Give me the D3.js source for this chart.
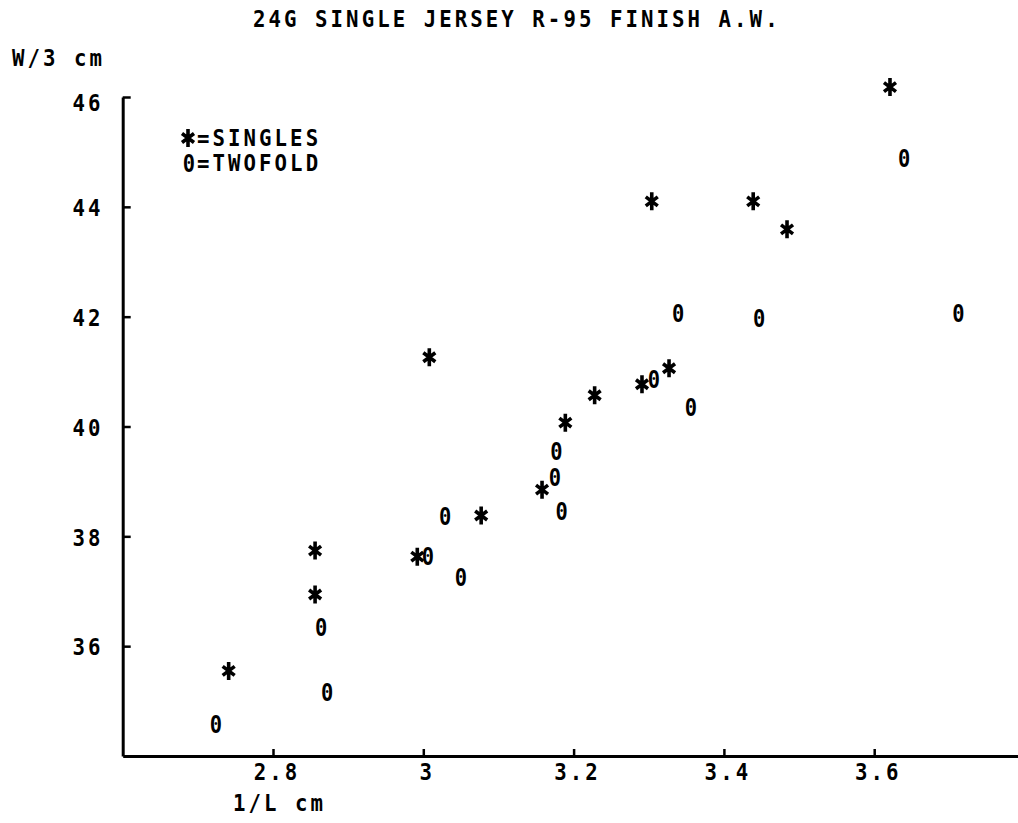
<!DOCTYPE html>
<html>
<head>
<meta charset="utf-8">
<script src="https://cdn.jsdelivr.net/npm/d3@7"></script>
<style>
  html, body { margin: 0; padding: 0; background: #fff; }
  svg { display: block; }
  text { font-family: "DejaVu Sans Mono", monospace; font-weight: bold; fill: #000; }
</style>
</head>
<body>
<script>
// ---- data ----
const title = "24G SINGLE JERSEY R-95 FINISH A.W.";
const xLabel = "1/L cm";
const yLabel = "W/3 cm";
const xTicks = [2.8, 3.0, 3.2, 3.4, 3.6];
const yTicks = [36, 38, 40, 42, 44, 46];
const singlesX = [2.741, 2.856, 2.856, 3.008, 2.992, 3.077, 3.158, 3.189, 3.228, 3.291, 3.327, 3.304, 3.439, 3.484, 3.621];
const singlesY = [35.55, 37.74, 36.94, 41.26, 37.63, 38.38, 38.85, 40.07, 40.57, 40.77, 41.06, 44.10, 44.10, 43.59, 46.18];
const twofoldX = [2.724, 2.872, 2.864, 3.006, 3.029, 3.050, 3.177, 3.175, 3.184, 3.307, 3.356, 3.339, 3.447, 3.640, 3.712];
const twofoldY = [34.58, 35.15, 36.35, 37.63, 38.36, 37.25, 39.54, 39.07, 38.45, 40.86, 40.35, 42.06, 41.97, 44.89, 42.06];
const legendItems = ["=SINGLES", "=TWOFOLD"];

// ---- chart ----
const W = 1018, H = 823;
const svg = d3.select("body").append("svg").attr("width", W).attr("height", H);
svg.append("rect").attr("width", W).attr("height", H).attr("fill", "#fff");

const x = d3.scaleLinear().domain([2.6, 3.8]).range([122.7, 1024.5]);
const y = d3.scaleLinear().domain([34, 46]).range([756, 97]);

const FS = 23, LS = 3.4, SX = 0.9;
function monoText(g, str, x0, yc, anchor) {
  return g.append("text")
    .attr("transform", `translate(${x0},${yc}) scale(${SX},1)`)
    .attr("dy", "0.36em")
    .attr("font-size", FS)
    .attr("letter-spacing", LS)
    .attr("text-anchor", anchor || "start")
    .text(str);
}

// title
monoText(svg, title, 253, 19);
// y label
monoText(svg, yLabel, 12, 58);
// x label
monoText(svg, xLabel, 233, 803);

// axes
const xAxis = d3.axisBottom(x).tickValues(xTicks).tickFormat(() => "").tickSizeInner(-7).tickSizeOuter(0);
const gx = svg.append("g").attr("transform", `translate(0,${y(34)})`).call(xAxis);
const yAxis = d3.axisLeft(y).tickValues(yTicks).tickFormat(() => "").tickSizeInner(-8).tickSizeOuter(0);
const gy = svg.append("g").attr("transform", `translate(${x(2.6)},0)`).call(yAxis);

[gx, gy].forEach(g => {
  g.select(".domain").attr("stroke", "#000").attr("stroke-width", 3);
  g.selectAll(".tick line").attr("stroke", "#000").attr("stroke-width", 2.5);
});
// tick labels (scaled mono text, positioned by the scales)
const fmt = d3.format("");
xTicks.forEach(v => monoText(svg, fmt(v), x(v) + 4, 772, "middle"));
yTicks.forEach(v => monoText(svg, fmt(v), 88, y(v) + (v === 46 ? 6 : 1), "middle"));

// markers
const starPath = "M0,-9L0,9M-6,-4.5L6,4.5M-6,4.5L6,-4.5";
function drawStar(g, cx, cy) {
  g.append("path").attr("d", starPath)
    .attr("transform", `translate(${cx},${cy})`)
    .attr("fill", "none").attr("stroke", "#000")
    .attr("stroke-width", 3.6);
}
function drawZero(g, cx, cy) {
  g.append("text")
    .attr("transform", `translate(${cx},${cy}) scale(0.85,1)`)
    .attr("dy", "0.36em")
    .attr("text-anchor", "middle").attr("font-size", 24).text("0");
}

const marks = svg.append("g");
singlesX.forEach((v, i) => drawStar(marks, x(v), y(singlesY[i])));
twofoldX.forEach((v, i) => drawZero(marks, x(v), y(twofoldY[i])));

// legend
const lg = svg.append("g");
drawStar(lg, 188, 138);
monoText(lg, legendItems[0], 197, 138);
drawZero(lg, 189, 163);
monoText(lg, legendItems[1], 197, 163);
</script>
</body>
</html>
